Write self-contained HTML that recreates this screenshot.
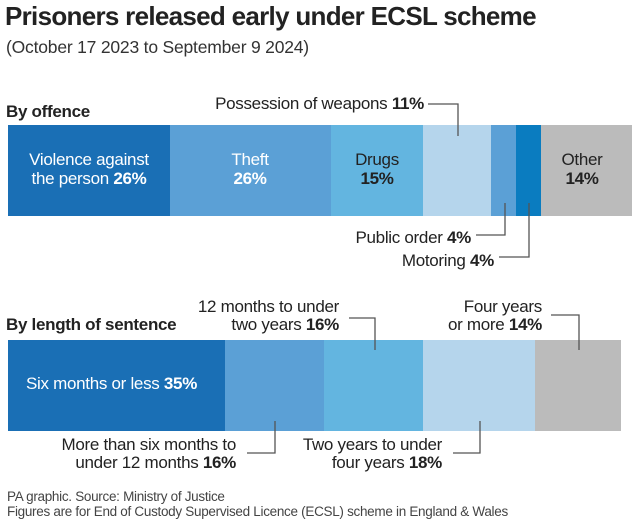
<!DOCTYPE html>
<html><head><meta charset="utf-8"><style>
html,body{margin:0;padding:0;background:#fff;}
svg{display:block;font-family:"Liberation Sans",sans-serif;}
text{letter-spacing:-0.3px;}
.b{font-weight:bold;}
</style></head><body>
<svg width="640" height="524" viewBox="0 0 640 524">
<text x="5" y="25" font-size="26" font-weight="bold" fill="#222" style="letter-spacing:-0.7px">Prisoners released early under ECSL scheme</text>
<text x="6" y="53" font-size="17.5" fill="#333" style="letter-spacing:-0.2px">(October 17 2023 to September 9 2024)</text>

<text x="6" y="117" font-size="17" font-weight="bold" fill="#222">By offence</text>
<rect x="8" y="125" width="162" height="91" fill="#1a6fb5"/>
<rect x="170" y="125" width="161" height="91" fill="#5ba0d6"/>
<rect x="331" y="125" width="92" height="91" fill="#63b5e0"/>
<rect x="423" y="125" width="68" height="91" fill="#b5d5ec"/>
<rect x="491" y="125" width="25" height="91" fill="#5ba0d6"/>
<rect x="516" y="125" width="25" height="91" fill="#0a7cc0"/>
<rect x="541" y="125" width="91" height="91" fill="#bbbbbb"/>
<g font-size="17" text-anchor="middle">
<text x="89" y="165" fill="#fff">Violence against</text>
<text x="89" y="184" fill="#fff">the person <tspan class="b">26%</tspan></text>
<text x="250" y="165" fill="#fff">Theft</text>
<text x="250" y="184" fill="#fff" class="b">26%</text>
<text x="377" y="165" fill="#222">Drugs</text>
<text x="377" y="184" fill="#222" class="b">15%</text>
<text x="582" y="165" fill="#222">Other</text>
<text x="582" y="184" fill="#222" class="b">14%</text>
</g>
<g font-size="17" text-anchor="end" fill="#222">
<text x="424" y="109">Possession of weapons <tspan class="b">11%</tspan></text>
<text x="471" y="243">Public order <tspan class="b">4%</tspan></text>
<text x="494" y="266">Motoring <tspan class="b">4%</tspan></text>
</g>
<g fill="none" stroke="#555" stroke-width="1.3">
<polyline points="428,104 458,104 458,136"/>
<polyline points="476,235 505,235 505,203"/>
<polyline points="499,257 529,257 529,203"/>
</g>

<text x="6" y="330" font-size="17" font-weight="bold" fill="#222">By length of sentence</text>
<rect x="8" y="340" width="217" height="91" fill="#1a6fb5"/>
<rect x="225" y="340" width="99" height="91" fill="#5ba0d6"/>
<rect x="324" y="340" width="99" height="91" fill="#63b5e0"/>
<rect x="423" y="340" width="112" height="91" fill="#b5d5ec"/>
<rect x="535" y="340" width="86" height="91" fill="#bbbbbb"/>
<text x="26" y="389" font-size="17" fill="#fff">Six months or less <tspan class="b">35%</tspan></text>
<g font-size="17" text-anchor="end" fill="#222">
<text x="339" y="312">12 months to under</text>
<text x="339" y="330">two years <tspan class="b">16%</tspan></text>
<text x="542" y="312">Four years</text>
<text x="542" y="330">or more <tspan class="b">14%</tspan></text>
<text x="236" y="450">More than six months to</text>
<text x="236" y="468">under 12 months <tspan class="b">16%</tspan></text>
<text x="442" y="450">Two years to under</text>
<text x="442" y="468">four years <tspan class="b">18%</tspan></text>
</g>
<g fill="none" stroke="#555" stroke-width="1.3">
<polyline points="349,318 375,318 375,350"/>
<polyline points="551,315 579,315 579,350"/>
<polyline points="247,453 275,453 275,421"/>
<polyline points="453,453 480,453 480,421"/>
</g>
<g font-size="13.5" fill="#444">
<text x="7" y="501">PA graphic. Source: Ministry of Justice</text>
<text x="7" y="516">Figures are for End of Custody Supervised Licence (ECSL) scheme in England &amp; Wales</text>
</g>
</svg>
</body></html>
